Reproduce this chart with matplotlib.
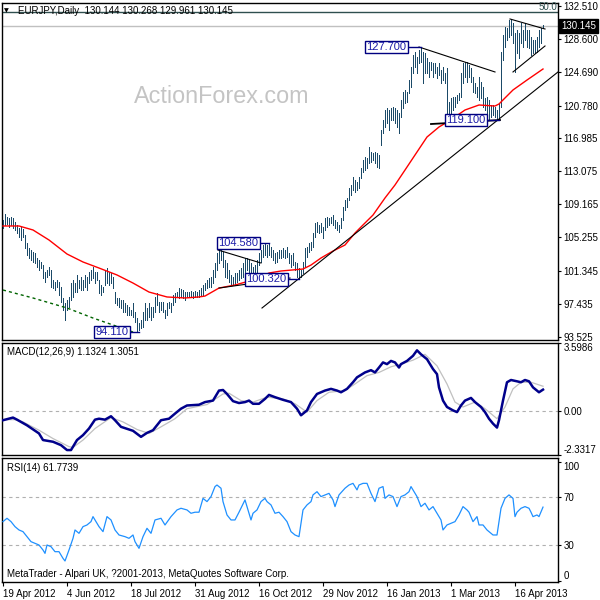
import matplotlib
matplotlib.use('Agg')
import matplotlib.pyplot as plt
import matplotlib.transforms as mtransforms

plt.rcParams['font.family'] = ['Liberation Sans', 'DejaVu Sans']

# ---------------- data ----------------
symbol_title = "EURJPY,Daily  130.144 130.268 129.961 130.145"
last_price = 130.145

highs = [
    107.30, 108.01, 107.66, 107.54, 107.66, 107.54, 107.07, 106.72, 106.36, 106.48,
    106.24, 105.54, 104.60, 104.01, 103.77, 103.53, 103.42, 102.83, 102.59, 102.36,
    102.00, 101.18, 101.42, 101.77, 101.42, 100.24, 100.00, 100.24, 100.00, 99.41,
    98.12, 97.53, 97.88, 98.24, 99.88, 100.24, 99.88, 100.83, 100.24, 100.59,
    100.24, 100.83, 100.59, 101.18, 101.42, 101.77,
    101.18, 101.18, 100.24, 99.65, 99.41, 101.42, 101.65, 101.18, 101.06, 100.59,
    98.82, 98.12, 98.12, 97.88, 97.88, 97.53, 97.29, 97.06, 96.70, 97.53,
    96.47, 95.76, 95.17, 95.53, 96.47, 97.53, 96.94, 97.53, 97.06, 97.06,
    98.24, 98.71, 97.65, 97.65, 97.65, 96.70, 97.53, 97.65, 97.53, 98.47,
    98.71, 98.82, 99.29, 99.18, 99.06, 98.82, 98.82,
    98.82, 98.94, 98.82, 98.94, 98.82, 99.06, 99.29, 99.65, 99.88, 100.24,
    100.47, 100.59, 101.42, 102.24, 103.42, 103.77, 104.01, 103.53, 102.59, 102.24,
    101.42, 100.83, 100.59, 101.06, 101.06, 101.42, 101.65, 102.24, 102.83, 102.83,
    102.59, 102.24, 101.77, 102.00, 102.59, 103.42, 103.77, 104.36, 104.45, 104.36,
    104.58, 104.12, 103.77, 103.42, 103.53, 103.77,
    103.77, 104.01, 103.77, 104.12, 103.42, 103.18, 103.42, 102.36, 102.24, 101.65,
    101.42, 102.36, 104.01, 104.12, 104.60, 104.71, 105.77, 106.95, 107.07, 106.72,
    106.95, 106.48, 107.54, 107.66, 107.54, 107.66, 107.89, 107.30, 107.07, 106.72,
    107.54, 108.84, 109.66, 109.90, 111.07, 111.43, 112.37, 112.02, 111.78, 112.37,
    113.43, 114.37, 114.72, 114.61, 115.90, 115.31, 115.20, 115.31,
    115.20, 114.96, 117.90, 119.08, 120.26, 120.50, 120.26, 120.50, 120.61, 120.50,
    120.26, 119.91, 121.44, 122.38, 122.62, 122.38, 123.79, 125.33, 126.74, 127.09,
    126.50, 127.33, 127.70, 127.09, 126.97, 126.39, 125.91, 125.91, 125.80, 125.80,
    125.33, 125.80, 124.97, 125.33, 124.62, 125.21, 121.20, 121.67, 121.79, 121.79,
    122.03, 122.26, 124.62, 125.80, 125.91,
    125.91, 125.56, 125.21, 124.15, 123.44, 122.97, 124.15, 123.56, 122.97, 121.67,
    121.79, 121.44, 120.85, 120.85, 120.61, 120.26, 121.09, 127.09, 129.09, 130.04,
    129.92, 130.86, 130.98, 130.51, 129.33, 129.68, 129.33, 130.51, 129.68, 130.51,
    129.68, 129.68, 128.86, 128.51, 128.51, 128.86, 129.68, 129.92, 130.27,
]

lows = [
    106.36, 106.72, 106.83, 106.48, 106.72, 106.36, 106.13, 105.77, 105.30, 104.95,
    105.30, 104.01, 103.18, 102.83, 102.59, 102.36, 102.24, 101.77, 101.42, 101.65,
    100.47, 100.00, 100.59, 100.83, 99.41, 99.29, 99.06, 99.41, 98.47, 97.65,
    96.70, 95.53, 96.70, 97.06, 97.88, 98.24, 98.82, 98.82, 99.29, 99.06,
    99.06, 99.41, 99.06, 99.88, 100.24, 100.47,
    99.88, 100.24, 98.71, 98.47, 98.82, 99.65, 99.88, 99.65, 99.88, 99.29,
    97.53, 97.29, 97.06, 96.94, 96.47, 96.47, 96.11, 96.11, 96.11, 95.88,
    95.29, 94.11, 94.35, 94.58, 94.70, 95.53, 95.53, 95.88, 95.53, 95.88,
    96.47, 97.29, 96.47, 96.70, 96.47, 95.76, 96.11, 96.94, 96.47, 97.29,
    97.65, 98.24, 98.12, 98.24, 98.12, 97.88, 98.24,
    98.24, 98.24, 98.12, 98.24, 98.24, 98.24, 98.47, 98.47, 99.06, 99.29,
    99.41, 99.41, 99.88, 100.59, 101.42, 102.24, 102.59, 101.77, 100.59, 100.47,
    100.00, 99.65, 99.65, 99.65, 100.00, 100.24, 100.47, 100.59, 101.06, 101.42,
    101.06, 100.83, 100.59, 100.83, 101.06, 102.00, 102.36, 102.95, 103.18, 102.95,
    103.18, 102.95, 102.59, 102.24, 102.36, 102.83,
    102.83, 102.95, 102.83, 102.95, 102.24, 101.77, 102.00, 101.42, 100.59, 100.32,
    100.59, 101.06, 101.77, 102.95, 103.53, 103.77, 104.12, 105.30, 105.89, 105.77,
    105.89, 105.18, 106.13, 106.48, 106.72, 106.95, 106.72, 106.36, 106.13, 105.89,
    106.36, 107.30, 108.48, 108.84, 109.66, 110.25, 110.84, 110.60, 110.84, 111.07,
    112.25, 112.96, 113.19, 113.43, 114.02, 114.14, 114.37, 114.02,
    113.55, 113.43, 116.14, 117.55, 118.26, 118.73, 117.90, 119.08, 119.08, 118.73,
    118.26, 117.55, 119.44, 120.50, 121.09, 121.20, 122.26, 122.97, 124.62, 125.33,
    124.62, 125.80, 125.91, 123.44, 124.62, 124.62, 124.15, 124.97, 124.15, 124.62,
    124.03, 124.38, 123.44, 123.79, 123.44, 119.35, 119.67, 119.91, 120.26, 120.61,
    121.09, 121.44, 121.79, 123.44, 124.15,
    123.56, 124.15, 123.56, 122.38, 122.26, 121.79, 121.44, 121.67, 120.61, 120.26,
    119.91, 119.15, 119.44, 119.67, 119.44, 119.20, 119.10, 120.61, 126.15, 127.68,
    128.51, 128.86, 129.09, 128.15, 124.74, 126.97, 126.39, 128.15, 127.68, 128.51,
    127.68, 127.56, 126.74, 126.97, 126.97, 127.09, 127.68, 128.15, 129.96,
]

# red moving average (sampled at bar indices)
ma_bar = [0, 8, 15, 23, 32, 40, 48, 57, 65, 73, 82, 91, 98, 101, 108, 116, 125, 133, 139,
          150, 154, 159, 165, 171, 176, 180, 185, 191, 196, 201, 206, 212, 218, 223, 231,
          238, 246, 248, 255, 262, 270]
ma_val = [106.60, 106.60, 106.13, 104.95, 103.30, 102.36, 101.65, 100.83, 99.88, 98.82,
          98.24, 98.12, 98.24, 98.35, 99.29, 99.65, 100.24, 101.06, 101.30, 101.53,
          102.00, 102.83, 103.65, 104.36, 105.77, 106.72, 107.89, 109.90, 111.43, 113.19,
          114.96, 117.08, 118.26, 118.96, 120.26, 120.85, 120.73, 120.97, 122.62, 123.79,
          125.09]

# green dashed long moving average
slow_ma_bar = [0, 15, 32, 45, 55, 65]
slow_ma_val = [99.06, 98.12, 96.94, 95.76, 94.94, 94.11]

# trendlines (bar index, price) -> (bar index, price)
trend_x0 = [129.5, 107.5, 108.0, 208.0, 214.0, 253.5, 255.0]
trend_p0 = [96.94, 103.77, 99.29, 127.68, 118.61, 130.98, 124.74]
trend_x1 = [277.5, 129.0, 143.5, 246.0, 248.5, 271.0, 271.0]
trend_p1 = [124.74, 102.24, 100.47, 124.74, 119.08, 129.80, 127.80]

# price labels on swing points
label_text = ['94.110', '104.580', '100.320', '127.700', '119.100']
label_price = [94.110, 104.580, 100.320, 127.700, 119.100]
label_bar = [68, 133, 148, 209, 248]

fib_level = 131.78
fib_text = '50.0'

main_ticks = [132.510, 128.600, 124.690, 120.780, 116.985, 113.075, 109.165,
              105.255, 101.345, 97.435, 93.525]

macd_bar = [0, 5, 7, 12, 18, 20, 25, 29, 32, 34, 37, 40, 43, 46, 48, 51, 54, 56, 59, 63,
            65, 69, 72, 75, 79, 83, 86, 89, 92, 98, 101, 105, 108, 110, 112, 115, 118, 121,
            123, 125, 128, 131, 133, 136, 140, 144, 147, 149, 152, 154, 157, 161, 164, 167,
            169, 172, 175, 177, 181, 184, 186, 188, 190, 192, 194, 196, 198, 199, 202, 205,
            207, 209, 212, 215, 217, 218, 220, 222, 225, 227, 229, 231, 234, 236, 239, 241,
            243, 245, 247, 248, 250, 252, 254, 257, 259, 261, 263, 265, 268, 270]
macd_val = [-0.49, -0.35, -0.46, -0.76, -1.19, -1.54, -1.63, -1.81, -2.07, -2.07, -1.54,
            -1.28, -0.93, -0.46, -0.41, -0.46, -0.28, -0.49, -0.84, -0.98, -1.05, -1.37,
            -1.16, -1.02, -0.49, -0.41, -0.14, 0.12, 0.29, 0.33, 0.47, 0.55, 1.08, 1.11,
            0.90, 0.52, 0.42, 0.47, 0.55, 0.38, 0.38, 0.64, 0.85, 0.73, 0.59, 0.47, 0.12,
            -0.23, 0.03, 0.47, 0.90, 1.08, 1.17, 1.08, 0.99, 1.17, 1.52, 1.78, 2.04, 2.16,
            2.04, 2.30, 2.57, 2.48, 2.65, 2.57, 2.30, 2.48, 2.65, 2.92, 3.21, 3.00, 2.74,
            2.22, 1.95, 1.25, 0.55, 0.21, 0.03, -0.06, 0.29, 0.55, 0.69, 0.47, 0.21, -0.06,
            -0.41, -0.67, -0.88, -0.49, 0.55, 1.52, 1.64, 1.57, 1.52, 1.64, 1.57, 1.25,
            0.99, 1.13]

signal_bar = [0, 6, 10, 18, 25, 33, 35, 40, 46, 54, 60, 67, 73, 79, 86, 92, 102, 110, 113,
              119, 125, 132, 140, 146, 152, 157, 163, 171, 176, 182, 188, 194, 199, 205,
              211, 217, 222, 226, 230, 236, 241, 247, 251, 255, 259, 264, 270]
signal_val = [-0.46, -0.46, -0.58, -1.02, -1.46, -1.89, -1.93, -1.54, -0.93, -0.35, -0.58,
              -0.98, -1.19, -0.84, -0.41, 0.12, 0.34, 0.90, 0.94, 0.55, 0.47, 0.73, 0.64,
              0.38, -0.06, 0.55, 0.99, 1.08, 1.43, 1.87, 2.04, 2.34, 2.48, 2.69, 3.00,
              2.39, 1.43, 0.47, 0.21, 0.47, 0.12, -0.41, 0.21, 1.17, 1.52, 1.52, 1.31]

macd_range = (-2.3317, 3.5986)
macd_title = "MACD(12,26,9) 1.1324 1.3051"

rsi_bar = [0, 2, 4, 6, 8, 10, 12, 14, 16, 18, 20, 21, 22, 24, 26, 28, 30, 31, 33, 35, 36,
           38, 40, 42, 44, 45, 46, 48, 50, 52, 54, 56, 58, 61, 63, 65, 66, 68, 70, 72, 74,
           76, 79, 81, 84, 87, 89, 92, 94, 96, 98, 100, 102, 104, 106, 107, 109, 110, 112,
           114, 116, 118, 121, 123, 124, 125, 127, 129, 131, 132, 134, 136, 138, 140, 142,
           144, 146, 148, 150, 152, 154, 155, 157, 159, 161, 163, 165, 166, 168, 171, 173,
           175, 177, 178, 180, 182, 183, 184, 186, 188, 190, 191, 193, 195, 197, 199, 201,
           203, 204, 206, 207, 209, 211, 213, 215, 217, 219, 220, 222, 224, 226, 228, 230,
           232, 233, 235, 237, 238, 240, 242, 243, 245, 247, 249, 251, 253, 255, 256, 257,
           259, 261, 263, 264, 265, 267, 268, 270]
rsi_val = [49.6, 52.4, 49.6, 45.4, 42.6, 41.2, 37.0, 32.8, 31.4, 30.0, 25.8, 23.0, 30.0,
           28.6, 24.4, 24.4, 18.8, 16.6, 25.8, 35.6, 42.6, 39.8, 45.4, 46.8, 49.6, 53.8,
           51.0, 45.4, 41.2, 53.8, 51.0, 42.6, 38.4, 37.0, 35.6, 38.4, 32.8, 27.2, 37.0,
           44.0, 39.8, 51.0, 52.4, 46.8, 53.8, 59.4, 60.8, 59.4, 56.6, 57.5, 57.5, 69.1,
           66.4, 70.6, 79.0, 80.3, 77.6, 66.4, 55.2, 51.0, 51.0, 57.5, 67.8, 56.6, 51.0,
           56.6, 59.4, 66.4, 69.1, 66.4, 63.6, 56.6, 57.5, 53.8, 49.6, 41.2, 38.4, 37.0,
           59.4, 63.6, 66.4, 72.0, 74.7, 70.6, 72.0, 73.3, 67.8, 62.2, 72.0, 77.6, 80.3,
           81.7, 76.2, 80.3, 81.7, 81.7, 77.6, 73.3, 66.4, 77.6, 79.0, 69.1, 72.0, 70.6,
           62.2, 70.6, 72.0, 74.7, 79.0, 73.3, 70.6, 62.2, 65.0, 59.4, 62.2, 56.6, 51.0,
           42.6, 46.8, 48.2, 49.6, 55.2, 62.2, 59.4, 57.5, 49.6, 53.8, 46.8, 46.8, 42.6,
           41.2, 38.4, 38.4, 60.8, 69.1, 72.0, 69.1, 53.8, 57.5, 60.8, 62.2, 60.8, 57.5,
           53.8, 55.2, 53.8, 61.77]
rsi_title = "RSI(14) 61.7739"
rsi_ticks = [100, 70, 30, 0]
rsi_levels = [70, 30]

footer = "MetaTrader - Alpari UK, ?2001-2013, MetaQuotes Software Corp."
x_labels = ['19 Apr 2012', '4 Jun 2012', '18 Jul 2012', '31 Aug 2012', '16 Oct 2012',
            '29 Nov 2012', '16 Jan 2013', '1 Mar 2013', '16 Apr 2013']
x_label_bars = [0, 32, 64, 96, 128, 160, 192, 224, 256]
watermark = "ActionForex.com"

# ---------------- layout helpers ----------------
W = H = 600.0


def fx(px):
    return px / W


def fy(py):
    return 1.0 - py / H


BAR_COLOR = '#1b4a68'
LABEL_GAP = [4.5, 4.5, 5.5, 6.5, 6.0]
FS = 7

fig = plt.figure(figsize=(6, 6), dpi=100, facecolor='white')
ax_main = fig.add_axes([fx(2), fy(340), fx(556), 337 / H])
ax_macd = fig.add_axes([fx(2), fy(455), fx(556), 112 / H])
ax_rsi = fig.add_axes([fx(2), fy(582), fx(556), 124 / H])

XLIM = (-0.5, 277.5)
for ax in (ax_main, ax_macd, ax_rsi):
    ax.set_xlim(*XLIM)
    for s in ax.spines.values():
        s.set_color('black')
        s.set_linewidth(1.0)
    ax.tick_params(axis='y', left=False, labelleft=False, right=True, labelright=True,
                   direction='out', length=2.5, width=0.8, pad=1.5, labelsize=FS,
                   colors='black')
    ax.set_facecolor('white')

# ---------------- main price panel ----------------
idx = list(range(len(highs)))
ax_main.set_ylim(93.172, 132.863)
ax_main.vlines(idx, lows, highs, color=BAR_COLOR, linewidth=0.6, zorder=3,
               antialiased=False)
ax_main.plot(ma_bar, ma_val, color='#ff0000', linewidth=1.0, zorder=4)
ax_main.plot(slow_ma_bar, slow_ma_val, color='#006400', linewidth=1.0,
             linestyle=(0, (2.2, 2.2)), zorder=4)
for x0, p0, x1, p1 in zip(trend_x0, trend_p0, trend_x1, trend_p1):
    lw = 1.3 if abs(p1 - p0) < 1 and (x1 - x0) > 30 else 0.8
    ax_main.plot([x0, x1], [p0, p1], color='black', linewidth=lw, zorder=5)

# fib level and bid line
ax_main.axhline(fib_level, color='#2f4f4f', linewidth=1.0, zorder=2)
ax_main.axhline(last_price, color='#c0c0c0', linewidth=1.0, zorder=1)
trans_main = mtransforms.blended_transform_factory(ax_main.transAxes, ax_main.transData)
ax_main.text(0.998, fib_level + 0.08, fib_text, transform=trans_main, ha='right',
             va='bottom', fontsize=FS, color='#2f4f4f', zorder=6)

# swing labels
for txt, p, b, gap in zip(label_text, label_price, label_bar, LABEL_GAP):
    xr = b - gap
    ax_main.plot([xr, b], [p, p], color='#000080', linewidth=1.0, zorder=6)
    ax_main.text(xr - 0.8, p, txt, ha='right', va='center', fontsize=8,
                 color='#1c1ca8', zorder=7,
                 bbox=dict(boxstyle='square,pad=0.12', fc='white', ec='#000080', lw=1.0))

ax_main.set_yticks(main_ticks)
ax_main.set_yticklabels(['%.3f' % v for v in main_ticks])
ax_main.set_xticks([])
ax_main.annotate('%.3f' % last_price, xy=(1.0, last_price),
                 xycoords=('axes fraction', 'data'), xytext=(2.2, 0),
                 textcoords='offset points', ha='left', va='center', fontsize=FS,
                 color='white', annotation_clip=False,
                 bbox=dict(boxstyle='square,pad=0.2', fc='black', ec='black'))

ax_main.text(fx(134), fy(103), watermark, transform=fig.transFigure, fontsize=16.8,
             color='#c4c4c4', ha='left', va='baseline', zorder=0)
fig.text(fx(4), fy(10.5), '\u25bc', fontsize=4.5, family='DejaVu Sans', va='center',
         ha='left', color='black')
fig.text(fx(18), fy(10.5), symbol_title, fontsize=FS, va='center', ha='left',
         color='black')

# ---------------- MACD panel ----------------
ax_macd.set_ylim(*macd_range)
ax_macd.axhline(0, color='#b0b0b0', linewidth=0.8, linestyle=(0, (3, 3)), zorder=1)
ax_macd.plot(signal_bar, signal_val, color='#c0c0c0', linewidth=0.9, zorder=2)
ax_macd.plot(macd_bar, macd_val, color='#00008b', linewidth=1.8, zorder=3)
ax_macd.set_yticks([macd_range[1], 0.0, macd_range[0]])
ax_macd.set_yticklabels(['%.4f' % macd_range[1], '0.00', '%.4f' % macd_range[0]])
labs = ax_macd.get_yticklabels()
labs[0].set_va('top')
labs[2].set_va('bottom')
ax_macd.set_xticks([])
ax_macd.text(fx(7), fy(352), macd_title, transform=fig.transFigure, fontsize=FS,
             va='center', ha='left', color='black')

# ---------------- RSI panel ----------------
ax_rsi.set_ylim(-1.03, 102.96)
for lv in rsi_levels:
    ax_rsi.axhline(lv, color='#b0b0b0', linewidth=0.8, linestyle=(0, (3, 3)), zorder=1)
ax_rsi.plot(rsi_bar, rsi_val, color='#1e90ff', linewidth=0.9, zorder=3)
ax_rsi.set_yticks(rsi_ticks)
ax_rsi.set_yticklabels([str(v) for v in rsi_ticks])
labs = ax_rsi.get_yticklabels()
labs[0].set_va('top')
labs[3].set_va('bottom')
ax_rsi.set_xticks(x_label_bars)
ax_rsi.set_xticklabels(x_labels)
for lab in ax_rsi.get_xticklabels():
    lab.set_ha('left')
ax_rsi.tick_params(axis='x', direction='out', length=3, width=0.8, pad=2,
                   labelsize=FS, colors='black')
ax_rsi.text(fx(7), fy(468), rsi_title, transform=fig.transFigure, fontsize=FS,
            va='center', ha='left', color='black')
ax_rsi.text(fx(7), fy(574), footer, transform=fig.transFigure, fontsize=FS,
            va='center', ha='left', color='black')

fig.savefig('out.png', dpi=100, facecolor='white')
